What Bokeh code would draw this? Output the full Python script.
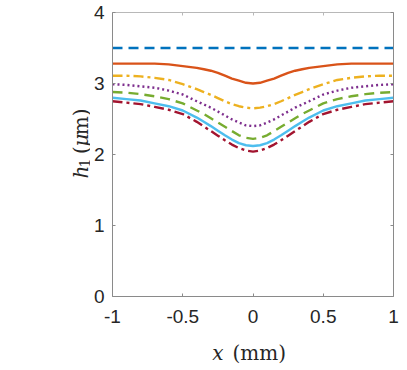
import math
from bokeh.plotting import figure
from bokeh.layouts import column, row
from bokeh.models import Range1d, LinearAxis, FixedTicker, CustomJSTickFormatter
from bokeh.core.properties import value
from bokeh.embed import file_html
from bokeh.resources import INLINE

# ---------------- data ----------------
X = [-1.0, -0.9, -0.8, -0.7, -0.6, -0.5, -0.4, -0.35, -0.3, -0.25, -0.2, -0.15, -0.1, -0.05, 0.0,
     0.05, 0.1, 0.15, 0.2, 0.25, 0.3, 0.35, 0.4, 0.5, 0.6, 0.7, 0.8, 0.9, 1.0]

X_FLAT = [-1.0, 1.0]
H_FLAT = [3.5, 3.5]

H_ORANGE = [3.28, 3.28, 3.28, 3.28, 3.27, 3.245, 3.22, 3.20, 3.18, 3.15, 3.11, 3.07, 3.04, 3.01, 3.00,
            3.01, 3.04, 3.07, 3.11, 3.15, 3.18, 3.20, 3.22, 3.245, 3.27, 3.28, 3.28, 3.28, 3.28]
H_YELLOW = [3.11, 3.11, 3.10, 3.08, 3.05, 2.99, 2.92, 2.88, 2.84, 2.795, 2.75, 2.71, 2.68, 2.66, 2.65,
            2.66, 2.68, 2.71, 2.75, 2.795, 2.84, 2.88, 2.92, 2.99, 3.05, 3.08, 3.10, 3.11, 3.11]
H_PURPLE = [2.99, 2.98, 2.96, 2.94, 2.90, 2.845, 2.75, 2.705, 2.66, 2.605, 2.55, 2.495, 2.45, 2.41, 2.40,
            2.41, 2.45, 2.495, 2.55, 2.605, 2.66, 2.705, 2.75, 2.845, 2.90, 2.94, 2.96, 2.98, 2.99]
H_GREEN = [2.88, 2.87, 2.85, 2.82, 2.78, 2.72, 2.62, 2.57, 2.51, 2.45, 2.39, 2.33, 2.27, 2.235, 2.22,
           2.235, 2.27, 2.33, 2.39, 2.45, 2.51, 2.57, 2.62, 2.72, 2.78, 2.82, 2.85, 2.87, 2.88]
H_CYAN = [2.80, 2.78, 2.76, 2.72, 2.68, 2.62, 2.52, 2.46, 2.40, 2.335, 2.27, 2.21, 2.16, 2.13, 2.12,
          2.13, 2.16, 2.21, 2.27, 2.335, 2.40, 2.46, 2.52, 2.62, 2.68, 2.72, 2.76, 2.78, 2.80]
H_RED = [2.75, 2.73, 2.71, 2.67, 2.63, 2.57, 2.46, 2.395, 2.33, 2.265, 2.20, 2.14, 2.09, 2.055, 2.04,
         2.055, 2.09, 2.14, 2.20, 2.265, 2.33, 2.395, 2.46, 2.57, 2.63, 2.67, 2.71, 2.73, 2.75]

XTICKS = [-1, -0.5, 0, 0.5, 1]
XTICK_LABELS = ["-1", "-0.5", "0", "0.5", "1"]
YTICKS = [0, 1, 2, 3, 4]
YTICK_LABELS = ["0", "1", "2", "3", "4"]

# ---------------- layout sizes (px) ----------------
YLAB_W = 90          # strip holding the y label
MAIN_BL = 20         # main figure left border -> frame left at 110
MAIN_BT = 12
MAIN_BR = 8
MAIN_BB = 36
FRAME_W = 283
FRAME_H = 284
MAIN_W = MAIN_BL + FRAME_W + MAIN_BR
MAIN_H = MAIN_BT + FRAME_H + MAIN_BB
XLAB_H = 36
TOTAL_W = YLAB_W + MAIN_W

# ---------------- main figure ----------------
p = figure(width=MAIN_W, height=MAIN_H,
           x_range=Range1d(-1, 1), y_range=Range1d(0, 4),
           output_backend="svg", toolbar_location=None,
           min_border_left=MAIN_BL, min_border_top=MAIN_BT,
           min_border_right=MAIN_BR, min_border_bottom=MAIN_BB,
           background_fill_color="white", border_fill_color="white",
           outline_line_color=None)
p.grid.visible = False

AXIS_COL = "#8a8a8a"
TICK_FONT = "Liberation Sans"

def style_axis(ax, color):
    ax.axis_line_color = color
    ax.axis_line_width = 1
    ax.major_tick_line_color = color
    ax.major_tick_in = 3
    ax.major_tick_out = 0
    ax.minor_tick_in = 0
    ax.minor_tick_out = 0
    ax.major_label_text_font = TICK_FONT
    ax.major_label_text_font_size = "19px"
    ax.major_label_text_color = "#262626"

xa = p.xaxis[0]
xa.ticker = FixedTicker(ticks=XTICKS)
xa.major_label_overrides = {float(t): s for t, s in zip(XTICKS, XTICK_LABELS)}
style_axis(xa, AXIS_COL)
xa.major_label_standoff = 13

ya = p.yaxis[0]
ya.ticker = FixedTicker(ticks=YTICKS)
ya.major_label_overrides = {float(t): s for t, s in zip(YTICKS, YTICK_LABELS)}
style_axis(ya, AXIS_COL)
ya.major_label_standoff = 8

blank = "return ''"
top = LinearAxis(ticker=FixedTicker(ticks=XTICKS), formatter=CustomJSTickFormatter(code=blank))
style_axis(top, "#b8b8b8")
top.major_label_text_font_size = "0px"
top.major_label_standoff = 0
p.add_layout(top, "above")

right = LinearAxis(ticker=FixedTicker(ticks=YTICKS), formatter=CustomJSTickFormatter(code=blank))
style_axis(right, AXIS_COL)
right.major_label_text_font_size = "0px"
right.major_label_standoff = 0
p.add_layout(right, "right")

LW = 2.4
p.line(X_FLAT, H_FLAT, line_color="#0072BD", line_width=LW, line_dash="10 6")
p.line(X, H_ORANGE, line_color="#D95319", line_width=LW)
p.line(X, H_YELLOW, line_color="#EDB120", line_width=LW, line_dash="10 4 3 4")
p.line(X, H_PURPLE, line_color="#7E2F8E", line_width=LW, line_dash="2 3")
p.line(X, H_GREEN, line_color="#77AC30", line_width=LW, line_dash="10 6")
p.line(X, H_CYAN, line_color="#4DBEEE", line_width=LW)
p.line(X, H_RED, line_color="#A2142F", line_width=LW, line_dash="10 4 3 4")

# ---------------- label strips (LaTeX-like axis titles) ----------------
SERIF = "DejaVu Serif"
LAB_COL = "#262626"

def strip(w, h):
    f = figure(width=w, height=h, x_range=Range1d(0, w), y_range=Range1d(0, h),
               output_backend="svg", toolbar_location=None,
               x_axis_location=None, y_axis_location=None,
               min_border=0, min_border_left=0, min_border_right=0,
               min_border_top=0, min_border_bottom=0,
               outline_line_color=None, background_fill_color="white",
               border_fill_color="white")
    f.grid.visible = False
    return f

def put(f, x, y, text, style="normal", size="20px", angle=0.0):
    f.text(x=[x], y=[y], text=[text], angle=angle,
           text_font=value(SERIF), text_font_size=value(size),
           text_font_style=value(style), text_color=LAB_COL,
           text_align="left", text_baseline="alphabetic")

# y label strip: "h1 (μm)" reading upward
ylab = strip(YLAB_W, MAIN_H)
A = math.pi / 2
BX = 80            # baseline column
Y0 = MAIN_H - 194  # start of text (bottom)
put(ylab, BX, Y0, "h", style="italic", angle=A)
put(ylab, BX + 4, Y0 + 12.8, "1", size="14px", angle=A)
put(ylab, BX, Y0 + 28.5, "(", angle=A)
put(ylab, BX, Y0 + 37.0, "μ", style="italic", angle=A)
put(ylab, BX, Y0 + 50.5, "m)", angle=A)

# x label strip: "x (mm)"
xlab = strip(TOTAL_W, XLAB_H)
BY = XLAB_H - (352.0 - MAIN_H)
put(xlab, 211.7, BY, "x", style="italic")
put(xlab, 232.0, BY, "(mm)")

layout = column(row(ylab, p, spacing=0), xlab, spacing=0)
open("out.html", "w").write(file_html(layout, INLINE))
